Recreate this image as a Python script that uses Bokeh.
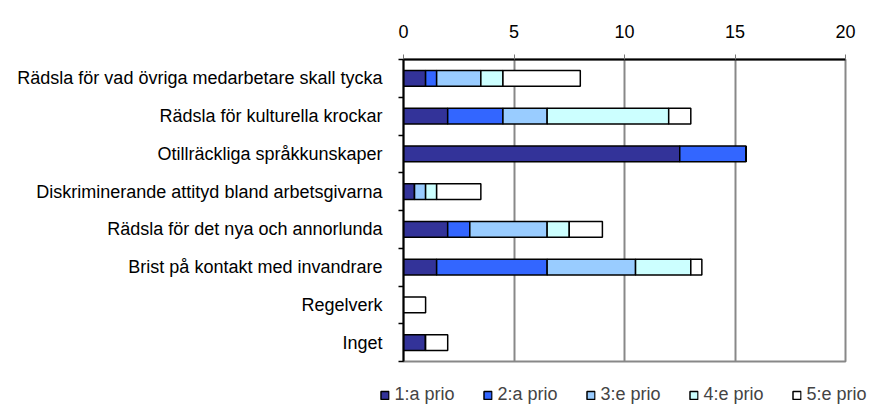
from bokeh.plotting import figure
from bokeh.models import ColumnDataSource, Range1d, FixedTicker, Legend, LegendItem
from bokeh.embed import file_html
from bokeh.resources import INLINE

categories = [
    "Rädsla för vad övriga medarbetare skall tycka",
    "Rädsla för kulturella krockar",
    "Otillräckliga språkkunskaper",
    "Diskriminerande attityd bland arbetsgivarna",
    "Rädsla för det nya och annorlunda",
    "Brist på kontakt med invandrare",
    "Regelverk",
    "Inget",
]
prio1 = [1, 2, 12.5, 0.5, 2, 1.5, 0, 1]
prio2 = [0.5, 2.5, 3, 0, 1, 5, 0, 0]
prio3 = [2, 2, 0, 0.5, 3.5, 4, 0, 0]
prio4 = [1, 5.5, 0, 0.5, 1, 2.5, 0, 0]
prio5 = [3.5, 1, 0, 2, 1.5, 0.5, 1, 1]
series_names = ["1:a prio", "2:a prio", "3:e prio", "4:e prio", "5:e prio"]
x_ticks = [0, 5, 10, 15, 20]

colors = ["#333399", "#3366FF", "#99CCFF", "#CCFFFF", "#FFFFFF"]
keys = ["p1", "p2", "p3", "p4", "p5"]

ypos = [i + 0.5 for i in range(len(categories))]
src = ColumnDataSource(dict(y=ypos, p1=prio1, p2=prio2, p3=prio3, p4=prio4, p5=prio5))

FONT = "Liberation Sans"

p = figure(frame_width=442, frame_height=302, output_backend="svg", toolbar_location=None,
           x_axis_location="above", x_range=Range1d(0, 20),
           y_range=Range1d(len(categories), 0),
           min_border_left=403, min_border_right=32, min_border_top=59, min_border_bottom=45)

rs = p.hbar_stack(keys, y="y", height=0.42, color=colors, line_color="black",
                  line_width=1.5, source=src)

p.outline_line_color = "#888888"
p.outline_line_width = 2

# x axis (top)
xa = p.xaxis[0]
xa.ticker = FixedTicker(ticks=x_ticks)
xa.axis_line_color = "black"
xa.axis_line_width = 2
xa.major_tick_line_color = "#777777"
xa.major_tick_out = 5
xa.major_tick_in = 0
xa.minor_tick_line_color = None
xa.major_label_standoff = 17
xa.major_label_text_font = FONT
xa.major_label_text_font_size = "18px"
xa.major_label_text_color = "black"

# y axis (left)
ya = p.yaxis[0]
ya.ticker = FixedTicker(ticks=ypos, minor_ticks=list(range(len(categories) + 1)))
ya.major_label_overrides = {y: c for y, c in zip(ypos, categories)}
ya.axis_line_color = "black"
ya.axis_line_width = 2
ya.major_tick_line_color = None
ya.major_tick_out = 0
ya.major_tick_in = 0
ya.minor_tick_line_color = "black"
ya.minor_tick_line_width = 1.5
ya.minor_tick_out = 5
ya.minor_tick_in = 0
ya.major_label_standoff = 16
ya.major_label_text_font = FONT
ya.major_label_text_font_size = "18px"
ya.major_label_text_color = "black"

p.xgrid.grid_line_color = "#888888"
p.xgrid.grid_line_width = 2
p.ygrid.grid_line_color = None

items = [LegendItem(label=n, renderers=[r]) for n, r in zip(series_names, rs)]
legend = Legend(items=items, orientation="horizontal", location="top_center",
                label_text_font=FONT, label_text_font_size="18px",
                glyph_width=10, glyph_height=10, label_standoff=5, spacing=26,
                label_width=62,
                border_line_color=None, background_fill_alpha=0,
                padding=0, margin=23)
p.add_layout(legend, "below")

open("out.html", "w").write(file_html(p, INLINE))
